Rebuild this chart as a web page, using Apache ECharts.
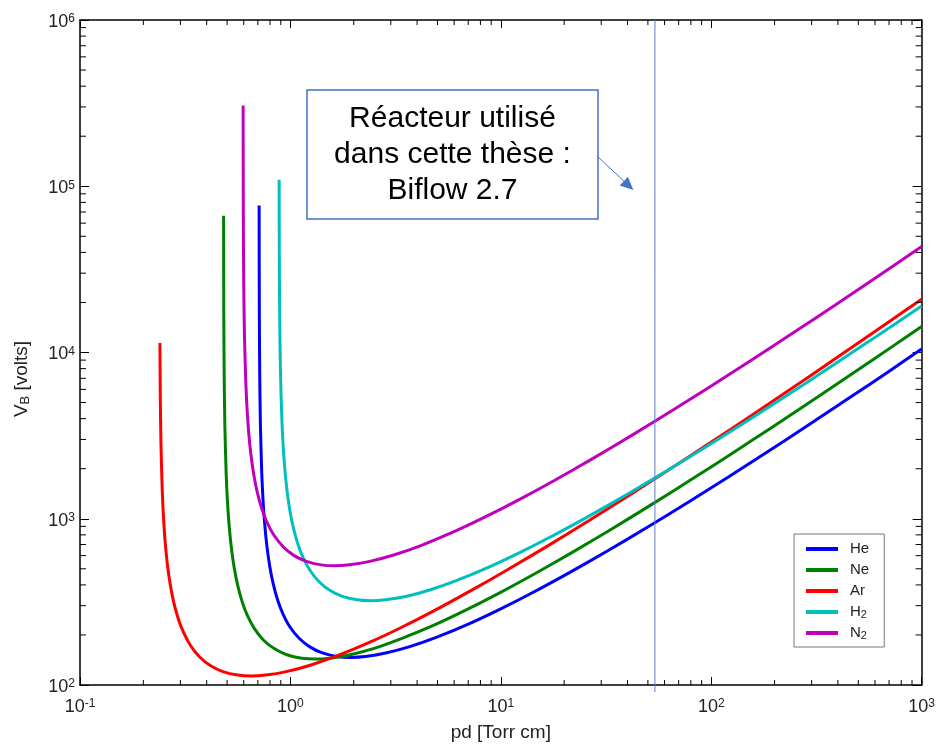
<!DOCTYPE html>
<html><head><meta charset="utf-8">
<script src="https://cdn.jsdelivr.net/npm/echarts@6/dist/echarts.min.js"></script>
<style>html,body{margin:0;padding:0;background:#fff;}#c{width:938px;height:747px;}</style>
</head><body><div id="c"></div>
<script>
// ---- data (pd [Torr cm], V_B [volts]) ----
const xTicks = [0.1, 1, 10, 100, 1000];
const xTickExp = ['-1', '0', '1', '2', '3'];
const yTicks = [100, 1000, 10000, 100000, 1000000];
const yTickExp = ['2', '3', '4', '5', '6'];
const seriesNames = ['He', 'Ne', 'Ar', 'H2', 'N2'];
const seriesColors = ['#0000FF', '#008000', '#FF0000', '#00BFBF', '#BF00BF'];
const reactorPd = 54;

const he = [[0.7101,76600],[0.7116,18050],[0.7148,7270],[0.7201,3676],[0.7308,1879],[0.7414,1280],[0.7556,912],[0.7734,682],[0.7982,515],[0.8301,402],[0.8727,320],[0.9224,267],[0.9933,224],[1.0997,191],[1.2416,169],[1.419,156],[1.667,148.3],[1.930,146.6],[2.270,148.3],[2.838,155.6],[3.689,170],[4.967,194],[7.095,234],[9.933,286],[14.19,360],[21.29,476],[31.93,637],[49.67,888],[78.05,1262],[120.6,1785],[184.5,2521],[283.8,3600],[461.2,5411],[709.5,7806],[1000,10480]];
const ne = [[0.4813,66400],[0.4823,17650],[0.4845,7106],[0.4881,3593],[0.4953,1836],[0.5025,1251],[0.5122,891],[0.5242,667],[0.5410,503],[0.5627,393],[0.5915,313],[0.6252,261],[0.6733,219],[0.7454,186],[0.8416,165],[0.9618,152],[1.130,144.9],[1.308,143.3],[1.539,145],[1.924,152],[2.501,166],[3.366,190],[4.809,229],[6.733,280],[9.618,352],[14.43,465],[21.64,623],[33.66,868],[52.90,1233],[81.75,1744],[125.0,2464],[192.4,3518],[312.6,5289],[480.9,7629],[721.4,10810],[1000,14340]];
const ar = [[0.2398,11410],[0.2407,5622],[0.2425,2842],[0.2461,1453],[0.2497,990],[0.2544,705],[0.2604,527],[0.2688,398],[0.2795,311],[0.2939,248],[0.3106,207],[0.3345,173.5],[0.3703,147.4],[0.4181,130.4],[0.4778,120.3],[0.5614,114.7],[0.6498,113.3],[0.7645,114.7],[0.9556,120.3],[1.242,131.5],[1.672,150],[2.389,181],[3.345,221],[4.778,278],[7.167,368],[10.75,493],[16.72,687],[26.28,976],[40.61,1380],[62.11,1949],[95.56,2783],[155.3,4184],[238.9,6035],[358.4,8551],[525.6,11920],[716.7,15620],[1000,20920]];
const h2 = [[0.884,109400],[0.8856,39600],[0.8895,15950],[0.8961,8066],[0.9094,4123],[0.9226,2809],[0.9403,2001],[0.9624,1496],[0.9933,1130],[1.033,882],[1.086,703],[1.148,586],[1.236,492],[1.369,418],[1.545,370],[1.766,341],[2.075,325.4],[2.402,321.6],[2.825,325.5],[3.532,341],[4.591,373],[6.180,426],[8.829,514],[12.36,628],[17.66,790],[26.49,1044],[39.73,1399],[61.80,1949],[97.12,2769],[150.1,3916],[229.6,5532],[353.2,7899],[573.9,11870],[1000,19060]];
const n2 = [[0.596,306000],[0.5974,64250],[0.6001,25880],[0.6045,13080],[0.6135,6687],[0.6224,4556],[0.6343,3245],[0.6492,2427],[0.6701,1833],[0.6969,1430],[0.7326,1140],[0.7743,951],[0.8338,798],[0.9232,679],[1.0423,600],[1.191,554],[1.400,528],[1.620,521.6],[1.906,528],[2.382,554],[3.097,605],[4.169,690],[5.956,833],[8.338,1018],[11.91,1281],[17.87,1693],[26.80,2269],[41.69,3162],[65.52,4491],[101.3,6352],[154.9,8973],[238.2,12810],[387.1,19260],[595.6,27780],[1000,43390]];
const seriesData = [he, ne, ar, h2, n2];

// ---- chart ----
const FONT = '"Liberation Sans", Arial, sans-serif';
const chart = echarts.init(document.getElementById('c'), null, {renderer: 'canvas'});

function expLabel(v, ticks, exps) {
  const lv = Math.log10(v);
  for (let i = 0; i < ticks.length; i++) {
    if (Math.abs(Math.log10(ticks[i]) - lv) < 1e-6) return '{b|10}{s|' + exps[i] + '}';
  }
  return '';
}
const labelRich = {
  b: {fontSize: 18, fontFamily: FONT, color: '#222', lineHeight: 18, padding: [9, 0, 0, 0], verticalAlign: 'bottom'},
  s: {fontSize: 12, fontFamily: FONT, color: '#222', lineHeight: 12, verticalAlign: 'top'}
};

// minor ticks (2..9 per decade) + the reactor marker, drawn through the axes' scales
const tickData = [];
for (let k = -1; k < 3; k++) for (let m = 2; m <= 9; m++) tickData.push([m * Math.pow(10, k), 100, 0]);
for (let k = 2; k < 6; k++) for (let m = 2; m <= 9; m++) tickData.push([0.1, m * Math.pow(10, k), 1]);
tickData.push([reactorPd, 100, 2]);

function renderTick(params, api) {
  const kind = api.value(2);
  if (kind === 0) {
    const v = api.value(0);
    const b = api.coord([v, 100]), t = api.coord([v, 1e6]);
    return {type: 'group', children: [
      {type: 'line', shape: {x1: b[0], y1: b[1], x2: b[0], y2: b[1] - 5}, style: {stroke: '#000', lineWidth: 1}},
      {type: 'line', shape: {x1: t[0], y1: t[1], x2: t[0], y2: t[1] + 5}, style: {stroke: '#000', lineWidth: 1}}
    ]};
  } else if (kind === 1) {
    const v = api.value(1);
    const l = api.coord([0.1, v]), r = api.coord([1000, v]);
    return {type: 'group', children: [
      {type: 'line', shape: {x1: l[0], y1: l[1], x2: l[0] + 6, y2: l[1]}, style: {stroke: '#000', lineWidth: 1}},
      {type: 'line', shape: {x1: r[0], y1: r[1], x2: r[0] - 6, y2: r[1]}, style: {stroke: '#000', lineWidth: 1}}
    ]};
  } else {
    const v = api.value(0);
    const b = api.coord([v, 100]), t = api.coord([v, 1e6]);
    return {type: 'line', shape: {x1: b[0], y1: t[1], x2: b[0], y2: b[1] + 7}, style: {stroke: '#5b7fd2', lineWidth: 1}};
  }
}

const axisCommon = {
  type: 'log', logBase: 10,
  axisLine: {show: true, lineStyle: {color: '#000', width: 1.5}},
  splitLine: {show: false},
  minorTick: {show: false}
};

const series = seriesData.map((d, i) => ({
  name: seriesNames[i], type: 'line', data: d,
  xAxisIndex: 0, yAxisIndex: 0,
  showSymbol: false, symbol: 'none', smooth: 0.25,
  lineStyle: {width: 3, color: seriesColors[i]},
  itemStyle: {color: seriesColors[i]},
  z: 3, silent: true
}));
series.push({
  type: 'custom', name: 'ticks', data: tickData, encode: {x: 0, y: 1},
  renderItem: renderTick, clip: false, silent: true, z: 5
});

const option = {
  animation: false,
  backgroundColor: '#fff',
  grid: {left: 80, right: 16, top: 20, bottom: 62, containLabel: false},
  xAxis: [
    Object.assign({}, axisCommon, {
      position: 'bottom', min: 0.1, max: 1000,
      axisTick: {show: true, inside: true, length: 8, lineStyle: {color: '#000', width: 1}},
      axisLabel: {show: true, margin: 13, formatter: v => expLabel(v, xTicks, xTickExp), rich: labelRich},
      name: 'pd [Torr cm]', nameLocation: 'middle', nameGap: 38,
      nameTextStyle: {fontSize: 19, fontFamily: FONT, color: '#222'}
    }),
    Object.assign({}, axisCommon, {
      position: 'top', min: 0.1, max: 1000,
      axisTick: {show: true, inside: true, length: 8, lineStyle: {color: '#000', width: 1}},
      axisLabel: {show: false}
    })
  ],
  yAxis: [
    Object.assign({}, axisCommon, {
      position: 'left', min: 100, max: 1000000,
      axisTick: {show: true, inside: true, length: 9, lineStyle: {color: '#000', width: 1}},
      axisLabel: {show: true, margin: 5, padding: [4, 0, 0, 0], formatter: v => expLabel(v, yTicks, yTickExp), rich: labelRich}
    }),
    Object.assign({}, axisCommon, {
      position: 'right', min: 100, max: 1000000,
      axisTick: {show: true, inside: true, length: 9, lineStyle: {color: '#000', width: 1}},
      axisLabel: {show: false}
    })
  ],
  legend: {
    data: seriesNames, orient: 'vertical', left: 794, top: 534,
    padding: [5, 12, 6, 12], itemGap: 3, itemWidth: 32, itemHeight: 4,
    borderColor: '#777', borderWidth: 1, backgroundColor: '#fff',
    selectedMode: false, icon: 'rect',
    formatter: n => {
      const m = n.match(/^([A-Za-z]+)(\d?)$/);
      return '{n|' + m[1] + '}{d|' + (m[2] || ' ') + '}';
    },
    textStyle: {
      fontSize: 15, fontFamily: FONT, color: '#222', padding: [0, 0, 0, 7],
      rich: {
        n: {fontSize: 15, fontFamily: FONT, color: '#222', lineHeight: 16, verticalAlign: 'top'},
        d: {fontSize: 11, fontFamily: FONT, color: '#222', lineHeight: 11, verticalAlign: 'bottom', padding: [7, 0, 0, 0]}
      }
    }
  },
  graphic: [
    {type: 'text', x: 22, y: 379, rotation: Math.PI / 2, z: 10,
     style: {text: '{a|V}{b|B}{a| [volts]}', align: 'center', verticalAlign: 'middle',
      rich: {a: {fontSize: 19, fontFamily: FONT, fill: '#222', lineHeight: 20, verticalAlign: 'top'},
             b: {fontSize: 13, fontFamily: FONT, fill: '#222', lineHeight: 13, verticalAlign: 'bottom', padding: [10, 0, 0, 0]}}}},
    {type: 'rect', shape: {x: 307, y: 90, width: 291, height: 129}, z: 10,
     style: {fill: '#fff', stroke: '#4472C4', lineWidth: 1.5}},
    {type: 'text', x: 452.5, y: 155, z: 11,
     style: {text: 'Réacteur utilisé\ndans cette thèse :\nBiflow 2.7', fontSize: 30, fontFamily: FONT,
      fill: '#000', align: 'center', verticalAlign: 'middle', lineHeight: 36}},
    {type: 'line', shape: {x1: 597, y1: 156, x2: 626, y2: 183}, z: 10,
     style: {stroke: '#4472C4', lineWidth: 1}},
    {type: 'polygon', shape: {points: [[633.3, 190], [619.7, 185.5], [627.9, 176.8]]}, z: 10,
     style: {fill: '#4472C4'}}
  ],
  series: series
};
chart.setOption(option);
</script></body></html>
